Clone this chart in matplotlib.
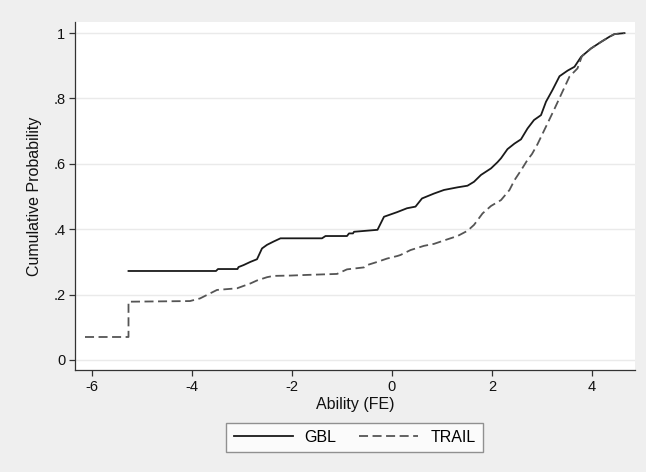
import matplotlib
matplotlib.use("Agg")
import matplotlib.pyplot as plt

# ---- data ----
gbl_x = [-5.27, -3.52, -3.48, -3.09, -3.07, -2.97, -2.83, -2.70, -2.60, -2.50,
         -2.37, -2.23, -1.40, -1.33, -0.90, -0.86, -0.78, -0.76, -0.29, -0.16,
         0.10, 0.30, 0.47, 0.60, 0.84, 1.04, 1.31, 1.51, 1.64, 1.78, 1.98,
         2.11, 2.18, 2.31, 2.45, 2.58, 2.71, 2.84, 2.98, 3.08, 3.21, 3.35,
         3.51, 3.65, 3.78, 3.98, 4.11, 4.18, 4.35, 4.45, 4.65]
gbl_y = [0.272, 0.272, 0.278, 0.278, 0.284, 0.290, 0.300, 0.308, 0.341, 0.352,
         0.362, 0.372, 0.372, 0.379, 0.379, 0.387, 0.387, 0.392, 0.398, 0.438,
         0.452, 0.464, 0.469, 0.494, 0.509, 0.520, 0.528, 0.533, 0.545, 0.566, 0.586,
         0.605, 0.617, 0.645, 0.662, 0.675, 0.708, 0.734, 0.749, 0.790, 0.826, 0.868,
         0.885, 0.897, 0.927, 0.953, 0.966, 0.973, 0.989, 0.997, 1.000]

trail_x = [-6.14, -5.27, -5.27, -4.04, -3.84, -3.50, -3.10, -2.83, -2.70, -2.50,
           -2.37, -2.03, -1.70, -1.10, -0.90, -0.56, -0.50, -0.29, -0.10, 0.11,
           0.17, 0.37, 0.64, 0.84, 1.11, 1.31, 1.51, 1.64, 1.81, 1.98, 2.18,
           2.35, 2.45, 2.58, 2.71, 2.80, 2.91, 3.08, 3.24, 3.41, 3.55, 3.71,
           3.80, 3.98, 4.11, 4.18, 4.35, 4.45, 4.65]
trail_y = [0.070, 0.070, 0.178, 0.180, 0.188, 0.214, 0.219, 0.234, 0.243, 0.253,
           0.257, 0.258, 0.260, 0.263, 0.277, 0.283, 0.290, 0.300, 0.310, 0.318,
           0.321, 0.336, 0.349, 0.355, 0.369, 0.379, 0.395, 0.413, 0.448, 0.471, 0.489,
           0.520, 0.550, 0.580, 0.612, 0.630, 0.660, 0.714, 0.765, 0.821, 0.867, 0.892,
           0.930, 0.953, 0.966, 0.973, 0.989, 0.997, 1.000]

x_ticks = [-6, -4, -2, 0, 2, 4]
x_ticklabels = ["-6", "-4", "-2", "0", "2", "4"]
y_ticks = [0, 0.2, 0.4, 0.6, 0.8, 1.0]
y_ticklabels = ["0", ".2", ".4", ".6", ".8", "1"]

plt.rcParams['font.family'] = ['Liberation Sans', 'DejaVu Sans']

W, H = 646, 472
fig = plt.figure(figsize=(W / 100, H / 100), dpi=100)
fig.patch.set_facecolor('#efefef')

ax = fig.add_axes([75 / W, 1 - 370 / H, (635 - 75) / W, (370 - 22) / H])
ax.set_facecolor('white')

ax.plot(gbl_x, gbl_y, color='#1a1a1a', lw=1.3, label='GBL')
ax.plot(trail_x, trail_y, color='#555555', lw=1.3,
        linestyle=(0, (5, 2.5)), label='TRAIL')

ax.set_xlim(-6.34, 4.86)
ax.set_ylim(-0.031, 1.034)

ax.set_xticks(x_ticks)
ax.set_xticklabels(x_ticklabels)
ax.set_yticks(y_ticks)
ax.set_yticklabels(y_ticklabels)

ax.grid(axis='y', color='#eaeaea', lw=1.0)
ax.set_axisbelow(True)

for s in ['top', 'right']:
    ax.spines[s].set_visible(False)
for s in ['left', 'bottom']:
    ax.spines[s].set_color('#333333')
    ax.spines[s].set_linewidth(0.9)

ax.tick_params(axis='both', direction='out', length=4, width=0.9, color='#333333',
               labelsize=10.5, labelcolor='#111111', pad=3)

ax.set_xlabel('Ability (FE)', fontsize=11.5, color='#111111', labelpad=2)
ax.set_ylabel('Cumulative Probability', fontsize=11.5, color='#111111', labelpad=8)

leg = fig.legend(loc='center', bbox_to_anchor=(354.5 / W, 1 - 437.5 / H), ncol=2,
                 frameon=True, fancybox=False, edgecolor='#777777', facecolor='white',
                 fontsize=11.5, handlelength=3.7, handletextpad=0.75, columnspacing=1.4,
                 borderpad=0.45)
leg.get_frame().set_linewidth(1.0)

fig.savefig('out.png', dpi=100, facecolor=fig.get_facecolor())
